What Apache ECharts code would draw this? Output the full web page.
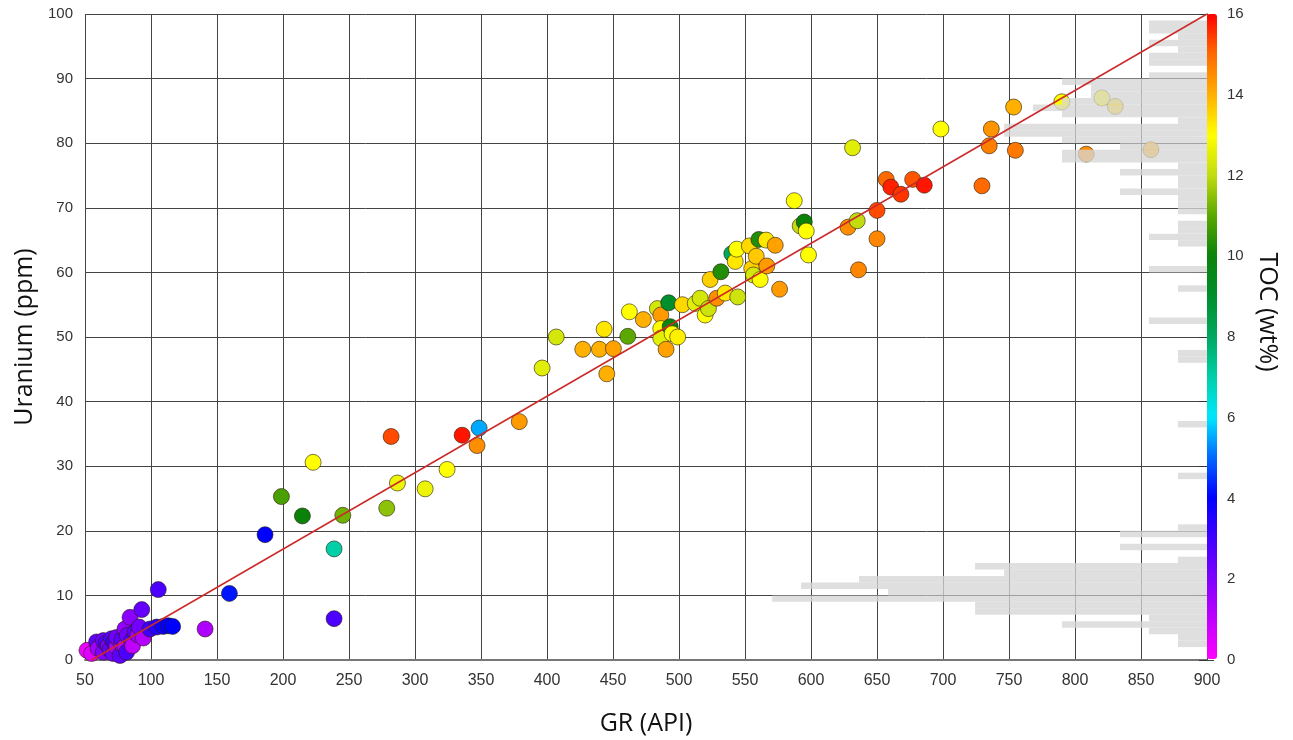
<!DOCTYPE html>
<html>
<head>
<meta charset="utf-8">
<script src="https://cdn.jsdelivr.net/npm/echarts@6/dist/echarts.min.js"></script>
<style>
html,body{margin:0;padding:0;background:#fff;}
#chart{width:1293px;height:740px;}
</style>
</head>
<body>
<div id="chart"></div>
<script>
// ---- data ----
// samples: [GR (API), Uranium (ppm), TOC (wt%)]
var samples = [
  [51.5,1.5,0.3],[55,1.0,0.5],[58.8,2.8,2.5],[60,1.8,1.5],[63.9,3.0,2.3],[63.9,1.2,2.0],[66,2.6,2.8],
  [67.7,2.2,2.0],[69,1.6,2.4],[70.2,3.3,2.6],[71.4,1.0,2.2],[72,2.8,3.0],[74,2.0,1.3],[74,3.5,2.2],
  [76.5,0.7,2.5],[77.8,2.5,1.5],[78,3.2,2.6],[80.3,2.1,1.0],[80.3,4.8,1.7],[81.5,1.2,2.8],[82,3.8,2.2],
  [84.1,6.6,1.8],[85.4,3.0,2.8],[86,2.2,1.0],[87.9,4.3,2.5],[90,3.9,1.6],[91.1,5.1,2.2],[93,7.8,2.4],
  [94.2,3.4,1.2],[99.3,4.8,3.0],[104.3,5.1,3.4],[105.5,10.9,2.8],[109.3,5.2,3.8],[113.1,5.3,4.0],[116.4,5.2,4.0],
  [141,4.8,1.3],[159.4,10.3,4.2],[186.4,19.4,4.0],[198.8,25.3,10.8],[214.7,22.3,10.0],[222.8,30.6,13.0],
  [238.7,17.2,7.0],[238.7,6.4,2.8],[245.3,22.4,11.2],[278.6,23.5,11.5],[281.9,34.6,15.3],[286.7,27.4,12.7],
  [307.7,26.5,12.7],[324.3,29.5,13.0],[335.7,34.8,15.8],[347,33.2,14.5],[348.6,35.9,5.5],[379,36.9,14.3],
  [396.3,45.2,12.5],[407,50,12.3],[427.1,48.1,14],[439.7,48.1,14],[443.3,51.2,13.3],[445.3,44.3,14],
  [450.3,48.2,14.2],[461.2,50.1,11],[462.4,53.9,13],[473,52.7,14],[483.6,54.4,12.3],[486.2,53.4,14.3],
  [486.2,51.3,13],[486.2,49.8,12.5],[490.2,48.1,14.2],[492.2,55.3,9],[493.3,51.6,9.8],[494.8,50.5,13],
  [499,50,13.2],[502.6,55,13.5],[512.3,55.2,12.5],[516,56,12.3],[519.8,53.4,13],[522.3,54.4,12.2],
  [523.6,58.9,13.6],[528.6,56,14.5],[531.7,60.1,10.3],[535,56.8,13.3],[540,62.9,8],[542.6,61.7,13.3],
  [543.7,63.6,13],[544.5,56.2,12.2],[553.3,64.1,13.5],[555.1,60.6,13.6],[556.4,59.6,12.3],[558.5,62.5,13.7],
  [560.5,65.1,10.3],[561.5,58.9,13],[566,65,13.3],[566.5,61,14.3],[572.9,64.2,14.2],[576.2,57.4,14.3],
  [587.3,71.1,13],[591.8,67.2,12],[594.9,67.8,10],[596.4,66.4,13],[598.1,62.7,13],
  [628,67,14.5],[631.5,79.3,12.5],[635,68,12],[636,60.4,14.6],[650,65.2,14.6],[650,69.6,15.3],
  [657,74.4,15],[660.5,73.2,15.7],[668.1,72.1,15.5],[677,74.4,15.2],[685.8,73.5,15.8],[698.4,82.2,13],
  [729.5,73.4,15],[735,79.6,14.7],[736.6,82.2,14.4],[753.5,85.6,14],[754.8,78.9,14.8],[790,86.4,13],
  [808.5,78.3,14.5],[820.4,87,13],[830.5,85.7,13.5],[857.5,79,14]
];

// 1:1 reference line [GR, U]
var trendLine = [[55, 0], [900, 100]];

// Uranium histogram: counts per 1 ppm bin, from bin 0-1 up to 99-100
var uBins = [];
for (var b = 0; b < 100; b++) { uBins.push(b + '-' + (b + 1)); }
var uCounts = [
  0,0,1,1,2,5,2,8,8,15,
  11,14,12,7,8,1,0,3,0,3,
  1,0,0,0,0,0,0,0,1,0,
  0,0,0,0,0,0,1,0,0,0,
  0,0,0,0,0,0,1,1,0,0,
  0,0,2,0,0,0,0,1,0,0,
  2,0,0,0,1,2,1,1,0,1,
  1,1,3,1,1,3,1,5,5,3,
  5,7,7,1,5,6,5,4,4,5,
  2,0,2,2,1,2,1,2,2,0
];

// TOC colour ramp, one stop per wt% from 0 to 16
var tocColors = ['#ff00ff','#c000ff','#7f00ff','#3f00ff','#0000ff','#0068ff','#00e8ff','#00cfa8',
                 '#00a860','#008f2c','#0a820a','#5aa800','#c2dc10','#ffff00','#ffb000','#ff6a00','#ff0000'];

var xTicks = {min: 50, max: 900, interval: 50};
var yTicks = {min: 0, max: 100, interval: 10};
var tocTicks = {min: 0, max: 16, interval: 2};

// ---- chart ----
var chart = echarts.init(document.getElementById('chart'));
var labelFont = 'Liberation Sans, Arial, sans-serif';
var nameFont = 'Open Sans, Noto Sans, sans-serif';

chart.setOption({
  animation: false,
  backgroundColor: '#ffffff',
  grid: [
    {left: 85, right: 86, top: 14, bottom: 80, outerBoundsMode: 'none'},
    {left: 1207, width: 10, top: 14, bottom: 80, outerBoundsMode: 'none'}
  ],
  xAxis: [
    {
      type: 'value', gridIndex: 0, min: xTicks.min, max: xTicks.max, interval: xTicks.interval,
      name: 'GR (API)', nameLocation: 'middle', nameGap: 51,
      nameTextStyle: {fontFamily: nameFont, fontSize: 25, color: '#111'},
      axisLine: {show: true, lineStyle: {color: '#777', width: 2}},
      axisTick: {show: false},
      axisLabel: {fontFamily: labelFont, fontSize: 16, color: '#333', margin: 13},
      splitLine: {show: true, lineStyle: {color: '#444', width: 1}}
    },
    {
      type: 'value', gridIndex: 0, min: 0, max: 38.7, inverse: true, show: false,
      splitLine: {show: false}
    },
    {
      type: 'value', gridIndex: 1, min: 0, max: 1, show: false, splitLine: {show: false}
    }
  ],
  yAxis: [
    {
      type: 'value', gridIndex: 0, min: yTicks.min, max: yTicks.max, interval: yTicks.interval,
      name: 'Uranium (ppm)', nameLocation: 'middle', nameGap: 42,
      nameTextStyle: {fontFamily: nameFont, fontSize: 25, color: '#111'},
      axisLine: {show: true, lineStyle: {color: '#222', width: 1}},
      axisTick: {show: true, inside: false, length: 8, lineStyle: {color: '#333', width: 1}},
      axisLabel: {fontFamily: labelFont, fontSize: 15, color: '#333', margin: 12},
      splitLine: {show: true, lineStyle: {color: '#444', width: 1}}
    },
    {
      type: 'category', gridIndex: 0, data: uBins, show: false, boundaryGap: true
    },
    {
      type: 'value', gridIndex: 1, position: 'right', min: tocTicks.min, max: tocTicks.max, interval: tocTicks.interval,
      name: 'TOC (wt%)', nameLocation: 'middle', nameGap: 38, nameRotate: -90,
      nameTextStyle: {fontFamily: nameFont, fontSize: 25, color: '#111', padding: [0, 50, 0, 0]},
      axisLine: {show: false},
      axisTick: {show: true, length: 7, lineStyle: {color: '#444'}},
      axisLabel: {fontFamily: labelFont, fontSize: 15, color: '#333', margin: 10},
      splitLine: {show: false}
    }
  ],
  visualMap: {
    type: 'continuous',
    seriesIndex: 0,
    dimension: 2,
    min: tocTicks.min,
    max: tocTicks.max,
    orient: 'vertical',
    left: 1207,
    top: 14,
    itemWidth: 10,
    itemHeight: 645,
    padding: 0,
    calculable: false,
    realtime: false,
    text: null,
    hoverLink: false,
    inRange: {color: tocColors}
  },
  series: [
    {
      type: 'scatter', xAxisIndex: 0, yAxisIndex: 0, z: 2,
      data: samples,
      symbol: 'circle', symbolSize: 16,
      itemStyle: {borderColor: 'rgba(40,30,10,0.6)', borderWidth: 1, opacity: 1}
    },
    {
      type: 'bar', xAxisIndex: 1, yAxisIndex: 1, z: 3,
      data: uCounts,
      barWidth: '100%', barCategoryGap: 0,
      itemStyle: {color: 'rgba(214,214,214,0.78)'},
      silent: true
    },
    {
      type: 'line', xAxisIndex: 0, yAxisIndex: 0, z: 4,
      data: trendLine, symbol: 'none',
      lineStyle: {color: '#cc2a2a', width: 1.5}
    }
  ]
});
</script>
</body>
</html>
